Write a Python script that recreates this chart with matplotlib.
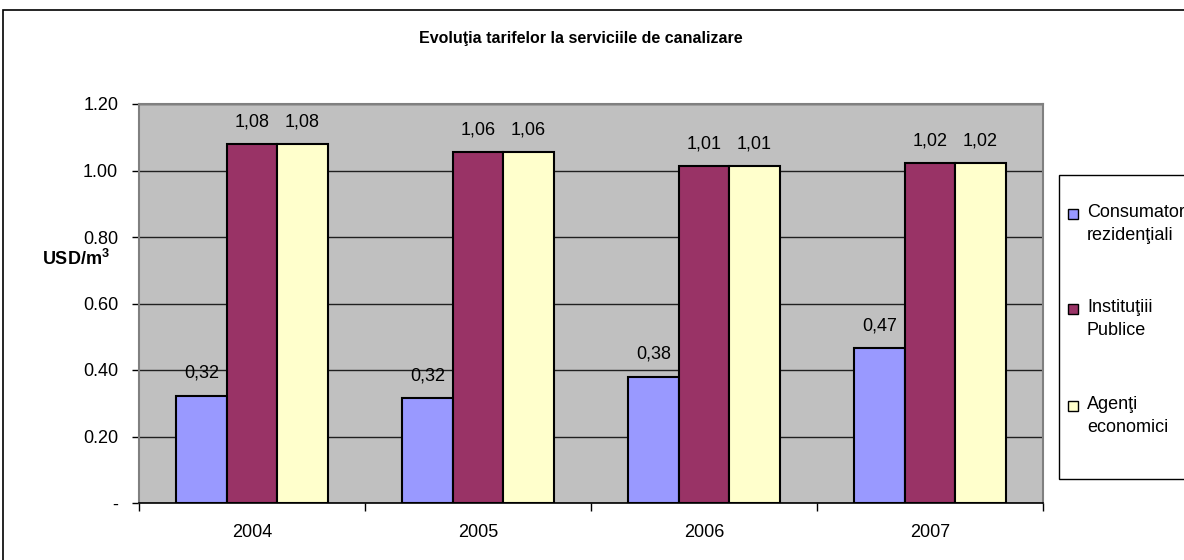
import matplotlib
matplotlib.use("Agg")
import matplotlib.pyplot as plt
from matplotlib.patches import Rectangle
import numpy as np

plt.rcParams['font.family'] = ['Liberation Sans', 'DejaVu Sans']

years = ["2004", "2005", "2006", "2007"]
series_names = ["Consumatori\nrezidenţiali", "Instituţiii\nPublice", "Agenţi\neconomici"]
consumatori = [0.323, 0.315, 0.380, 0.465]
institutii = [1.08, 1.055, 1.013, 1.023]
agenti = [1.08, 1.055, 1.013, 1.023]
labels_cons = ["0,32", "0,32", "0,38", "0,47"]
labels_inst = ["1,08", "1,06", "1,01", "1,02"]
labels_ag = ["1,08", "1,06", "1,01", "1,02"]
yticks = [0, 0.2, 0.4, 0.6, 0.8, 1.0, 1.2]
ytick_labels = ["-", "0.20", "0.40", "0.60", "0.80", "1.00", "1.20"]
colors = ["#9999FF", "#993366", "#FFFFCC"]

W, H = 1184, 560
fig = plt.figure(figsize=(W / 100, H / 100), dpi=100)
fig.patch.set_facecolor("white")

# outer chart frame
fig.patches.append(Rectangle((3 / W, -0.1), 1.2, 1 - 10 / H + 0.1, transform=fig.transFigure,
                             fill=False, edgecolor="black", linewidth=1.2, zorder=0))

ax = fig.add_axes([139 / W, (H - 503) / H, (1043 - 139) / W, (503 - 104) / H])
ax.set_facecolor("#C0C0C0")

x = np.arange(len(years))
bw = 0.224
series = [consumatori, institutii, agenti]
lbls = [labels_cons, labels_inst, labels_ag]
for i, (vals, col, lb) in enumerate(zip(series, colors, lbls)):
    pos = x + (i - 1) * bw
    ax.bar(pos, vals, width=bw, color=col, edgecolor="black", linewidth=1.5, zorder=3)
    for p, v, t in zip(pos, vals, lb):
        ax.annotate(t, (p, v), xytext=(0, 16), textcoords="offset points",
                    ha="center", va="center", fontsize=13, zorder=4)

ax.set_xlim(-0.5, len(years) - 0.5)
ax.set_ylim(0, 1.2)
ax.set_yticks(yticks)
ax.set_yticklabels(ytick_labels, fontsize=13)
ax.yaxis.grid(True, color="#202020", linewidth=1.0, zorder=1)
ax.tick_params(axis="y", direction="out", length=5, width=1, color="black", pad=10)

ax.set_xticks(np.arange(-0.5, len(years), 1.0))
ax.set_xticklabels([])
ax.set_xticks(x, minor=True)
ax.set_xticklabels(years, minor=True, fontsize=13)
ax.tick_params(axis="x", which="major", direction="out", length=6, width=1, color="black")
ax.tick_params(axis="x", which="minor", length=0, pad=15)

for s in ["top", "right", "left"]:
    ax.spines[s].set_color("#808080")
    ax.spines[s].set_linewidth(1.5)
ax.spines["bottom"].set_color("black")
ax.spines["bottom"].set_linewidth(1.2)

fig.text(581 / W, 1 - 39 / H, "Evoluţia tarifelor la serviciile de canalizare",
         ha="center", va="center", fontsize=11.5, fontweight="bold")
fig.text(76 / W, 1 - 259 / H, "USD/m$^\\mathregular{3}$", ha="center", va="center",
         fontsize=13, fontweight="bold")

# legend box
lx0, ly0, ly1 = 1059, 175, 479
fig.patches.append(Rectangle((lx0 / W, 1 - ly1 / H), 0.5, (ly1 - ly0) / H,
                             transform=fig.transFigure, fill=True, facecolor="white",
                             edgecolor="black", linewidth=1.0, zorder=5))
entry_y = [214, 309, 406]
for name, col, ey in zip(series_names, colors, entry_y):
    fig.patches.append(Rectangle((1068 / W, 1 - (ey + 5) / H), 10 / W, 10 / H,
                                 transform=fig.transFigure, facecolor=col,
                                 edgecolor="black", linewidth=1.0, zorder=6))
    fig.text(1087 / W, 1 - (ey - 10) / H, name, ha="left", va="top", fontsize=13,
             linespacing=1.45, zorder=7)

fig.savefig("out.png", dpi=100)
